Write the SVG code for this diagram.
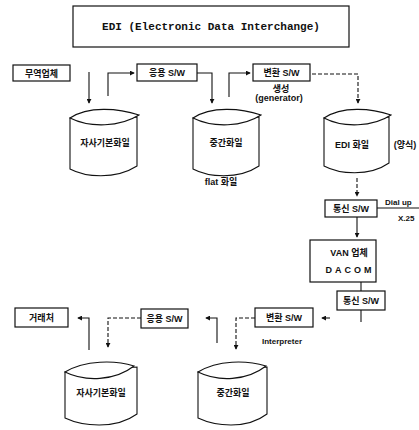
<svg xmlns="http://www.w3.org/2000/svg" width="419" height="430" viewBox="0 0 419 430">
  <defs>
    <marker id="arr" viewBox="0 0 6 6" refX="5" refY="3" markerWidth="5" markerHeight="5" orient="auto" markerUnits="userSpaceOnUse">
      <path d="M0,0 L6,3 L0,6 Z" fill="#111"/>
    </marker>
    <style>
      .box { fill: #fff; stroke: #111; stroke-width: 1.2; }
      .cyl { fill: #fff; stroke: #111; stroke-width: 1.1; }
      .ln { fill: none; stroke: #111; stroke-width: 1.1; }
      .dash { fill: none; stroke: #111; stroke-width: 1.1; stroke-dasharray: 4 2; }
      .t { font-family: "Liberation Sans", "Noto Sans CJK KR", sans-serif; font-weight: bold; font-size: 9px; fill: #111; text-anchor: middle; }
      .title { font-family: "Liberation Mono", "DejaVu Sans Mono", monospace; font-weight: bold; font-size: 11px; fill: #111; text-anchor: middle; }
      .s { font-family: "Liberation Sans", "Noto Sans CJK KR", sans-serif; font-weight: bold; font-size: 8px; fill: #111; }
    </style>
  </defs>

  <g id="title">
    <rect class="box" x="73" y="6" width="276" height="41"/>
    <text class="title" x="211" y="30">EDI (Electronic Data Interchange)</text>
  </g>

  <!-- upper flow -->
  <g id="trader">
    <rect class="box" x="13" y="65" width="57" height="16"/>
    <text class="t" x="41.5" y="76.5">무역업체</text>
  </g>
  <g id="app-sw-1">
    <rect class="box" x="137" y="64" width="60" height="17"/>
    <text class="t" x="167" y="76">응용 S/W</text>
  </g>
  <g id="conv-sw-1">
    <rect class="box" x="253" y="64" width="57" height="17"/>
    <text class="t" x="281.5" y="76">변환 S/W</text>
    <text class="t" x="281" y="92">생성</text>
    <text class="t" x="279" y="101">(generator)</text>
  </g>

  <g id="own-file-1">
    <path class="cyl" d="M70,118 V169 C85,177 115,180 137,166 V117 Z"/>
    <path class="cyl" d="M70,118 C88,106 118,108 139,115 C120,127 90,128 70,118 Z"/>
    <text class="t" x="105" y="146">자사기본화일</text>
  </g>
  <g id="mid-file-1">
    <path class="cyl" d="M193,118 V169 C208,177 238,180 259,166 V117 Z"/>
    <path class="cyl" d="M193,118 C211,106 241,108 261,115 C243,127 213,128 193,118 Z"/>
    <text class="t" x="226" y="146">중간화일</text>
    <text class="t" x="221" y="185">flat 화일</text>
  </g>
  <g id="edi-file">
    <path class="cyl" d="M324,118 V166 C339,174 369,177 389,163 V117 Z"/>
    <path class="cyl" d="M324,118 C342,106 371,108 391,115 C373,127 343,128 324,118 Z"/>
    <text class="t" x="352" y="148">EDI 화일</text>
    <text class="t" x="405" y="148">(양식)</text>
  </g>

  <g id="comm-sw-1">
    <rect class="box" x="325" y="200" width="52" height="17"/>
    <text class="t" x="351" y="212">통신 S/W</text>
    <text class="s" x="385" y="205">Dial up</text>
    <text class="s" x="398" y="221">X.25</text>
  </g>

  <g id="van">
    <rect class="box" x="310" y="240" width="66" height="42"/>
    <text class="t" x="349" y="256">VAN 업체</text>
    <text class="t" x="350" y="273" letter-spacing="3">DACOM</text>
  </g>

  <g id="comm-sw-2">
    <rect class="box" x="337" y="291" width="48" height="19"/>
    <text class="t" x="361" y="304">통신 S/W</text>
  </g>

  <!-- lower flow -->
  <g id="partner">
    <rect class="box" x="15" y="308" width="53" height="19"/>
    <text class="t" x="41.5" y="321">거래처</text>
  </g>
  <g id="app-sw-2">
    <rect class="box" x="141" y="309" width="47" height="19"/>
    <text class="t" x="164.5" y="322">응용 S/W</text>
  </g>
  <g id="conv-sw-2">
    <rect class="box" x="255" y="308" width="58" height="19"/>
    <text class="t" x="284" y="321">변환 S/W</text>
    <text class="s" x="282" y="344" text-anchor="middle">Interpreter</text>
  </g>

  <g id="own-file-2">
    <path class="cyl" d="M65,372 V418 C82,426 115,430 137,414 V367 Z"/>
    <path class="cyl" d="M65,372 C85,360 115,360 134,366 C115,381 85,382 65,372 Z"/>
    <text class="t" x="101" y="396">자사기본화일</text>
  </g>
  <g id="mid-file-2">
    <path class="cyl" d="M198,372 V418 C215,426 246,430 267,414 V367 Z"/>
    <path class="cyl" d="M198,372 C218,360 246,360 266,366 C247,381 218,382 198,372 Z"/>
    <text class="t" x="233" y="396">중간화일</text>
  </g>

  <g id="connectors">
    <path class="ln" d="M89,72 V103" marker-end="url(#arr)"/>
    <path class="ln" d="M108,96 V73 H134" marker-end="url(#arr)"/>
    <path class="ln" d="M197,73 H212 V103" marker-end="url(#arr)"/>
    <path class="ln" d="M229,97 V73 H250" marker-end="url(#arr)"/>
    <path class="dash" d="M312,74 H358 V103" marker-end="url(#arr)"/>
    <path class="dash" d="M357,178 V196" marker-end="url(#arr)"/>
    <path class="ln" d="M377,208 H419"/>
    <path class="ln" d="M357,217 V237" marker-end="url(#arr)"/>
    <path class="ln" d="M361,282 V291"/>
    <path class="ln" d="M361,310 V322"/>
    <path class="ln" d="M330,318 H322" marker-end="url(#arr)"/>
    <path class="dash" d="M255,318 H236 V349" marker-end="url(#arr)"/>
    <path class="ln" d="M217,343 V318 H206" marker-end="url(#arr)"/>
    <path class="dash" d="M141,318 H108 V347" marker-end="url(#arr)"/>
    <path class="ln" d="M89,350 V318 H78" marker-end="url(#arr)"/>
  </g>
</svg>
